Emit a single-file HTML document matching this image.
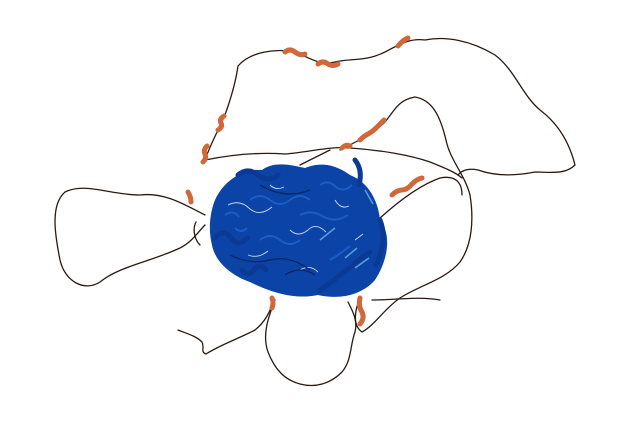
<!DOCTYPE html>
<html><head><meta charset="utf-8"><style>
html,body{margin:0;padding:0;background:#fff;width:628px;height:423px;overflow:hidden}
svg{display:block}
</style></head><body>
<svg width="628" height="423" viewBox="0 0 628 423">
<g fill="none" stroke="#2a1a12" stroke-width="1.3" stroke-linecap="round" stroke-linejoin="round">
<path d="M205,215 C185,205 165,192 140,195 C110,195 85,182 65,192 C50,205 55,235 60,260 C65,282 85,292 100,282 C120,266 150,262 180,248 C192,242 198,232 205,225"/>
<path d="M205,160 C212,140 220,128 226,112 C232,95 236,80 238,66 C250,52 275,48 295,52 C310,58 320,66 335,62 C350,58 365,62 385,52 C400,44 410,38 425,40 C445,36 470,40 495,55 C515,70 522,95 540,110 C560,125 570,145 575,165 C565,175 550,172 535,172 C515,176 495,176 478,170 C468,168 462,170 458,175"/>
<path d="M340,150 C360,140 375,132 385,122 C395,110 398,100 415,97 C432,100 440,115 446,140 C450,160 465,175 470,195 C474,220 472,245 460,262 C445,280 420,285 400,298 C385,308 375,325 362,332 C352,325 355,310 360,298"/>
<path d="M275,300 C268,318 262,335 268,352 C275,370 285,380 300,384 C315,388 330,384 342,372 C352,360 350,345 355,332 C358,320 352,310 348,302"/>
<path d="M205,160 C230,155 258,152 285,154 C310,152 330,146 350,148 C380,150 410,155 430,162 C445,168 455,172 462,178"/>
<path d="M380,218 C400,200 420,185 440,178 C455,175 462,182 462,195 M372,300 C395,300 420,296 440,300"/>
<path d="M178,330 C188,334 196,336 202,342 C205,348 200,352 206,354 C220,345 240,338 255,330 C265,322 270,312 274,300"/>
<path d="M200,245 C195,240 192,230 196,222 M330,150 C320,155 310,160 300,165"/>
</g>
<g fill="none" stroke="#d0683a" stroke-width="5" stroke-linecap="round">
<path d="M203,162 q4,-4 2,-8 q-2,-4 2,-8"/>
<path d="M218,130 q5,-3 3,-7 q-2,-4 3,-7"/>
<path d="M285,52 q5,-4 10,0 q5,4 10,2"/>
<path d="M318,64 q5,-4 10,0 q5,3 10,0"/>
<path d="M398,46 q5,-6 10,-8"/>
<path d="M360,140 q4,-4 8,-6 q4,-2 8,-6 q4,-4 8,-8"/>
<path d="M392,195 q5,-5 10,-5 q5,0 10,-6 q5,-5 10,-6"/>
<path d="M342,148 q4,-4 8,-2"/>
<path d="M188,192 q3,5 3,10"/>
<path d="M272,298 q2,5 0,10"/>
<path d="M360,298 q-2,8 2,14 q3,6 -2,12"/>
</g>
<g>
<path fill="#0b43a6" d="M215,200 C222,184 240,168 262,170 C275,160 295,166 305,168 C325,160 340,168 350,175 C368,182 378,200 380,220 C392,235 388,260 375,280 C362,295 340,300 318,295 C295,300 270,292 250,282 C232,276 215,262 212,245 C208,230 210,212 215,200 Z"/>
<g fill="none" stroke="#0a3a95" stroke-width="5" stroke-linecap="round">
<path d="M215,238 q8,-10 16,0 q8,10 16,0"/>
<path d="M238,175 q10,-8 20,0 q10,8 20,0"/>
<path d="M320,290 q12,-8 24,-18 q12,-10 26,-20"/>
<path d="M380,220 q8,20 -4,45"/>
<path d="M242,270 q6,8 12,0 q6,-8 12,0"/>
<path d="M355,160 q8,10 4,25"/>
</g>
<g fill="none" stroke="#ffffff" stroke-width="0.9" opacity="0.8">
<path d="M228,205 q12,-6 22,4 q10,8 22,-2"/>
<path d="M290,230 q8,8 18,0 q8,-8 18,2"/>
<path d="M248,255 q10,4 20,-4"/>
<path d="M335,200 q6,10 14,6"/>
<path d="M300,270 q10,-6 18,2"/>
<path d="M270,185 q6,6 14,2"/>
<path d="M355,240 l8,-6"/>
</g>
<g fill="none" stroke="#1c5cc4" stroke-width="2">
<path d="M250,200 q10,-8 20,0 q10,8 20,0 q10,-8 20,0"/>
<path d="M260,240 q10,-8 20,0 q10,8 20,0"/>
<path d="M300,215 q12,-6 24,2 q12,6 24,-2"/>
<path d="M330,260 q10,-6 20,-14"/>
<path d="M225,215 q8,-6 14,2"/>
<path d="M320,185 q8,-6 16,2 q8,6 16,-2"/>
<path d="M235,228 q6,6 12,0"/>
</g>
<g fill="none" stroke="#5a9fd8" stroke-width="1.5">
<path d="M320,240 l15,-12"/>
<path d="M345,258 l12,-10"/>
<path d="M365,190 l8,14"/>
<path d="M355,268 l14,-10"/>
</g>
<g fill="none" stroke="#06245e" stroke-width="1.2">
<path d="M230,255 q20,10 40,5 q20,-5 40,10"/>
<path d="M260,185 q25,15 50,5"/>
<path d="M285,275 q15,-10 30,0"/>
</g>
</g>
</svg>
</body></html>
